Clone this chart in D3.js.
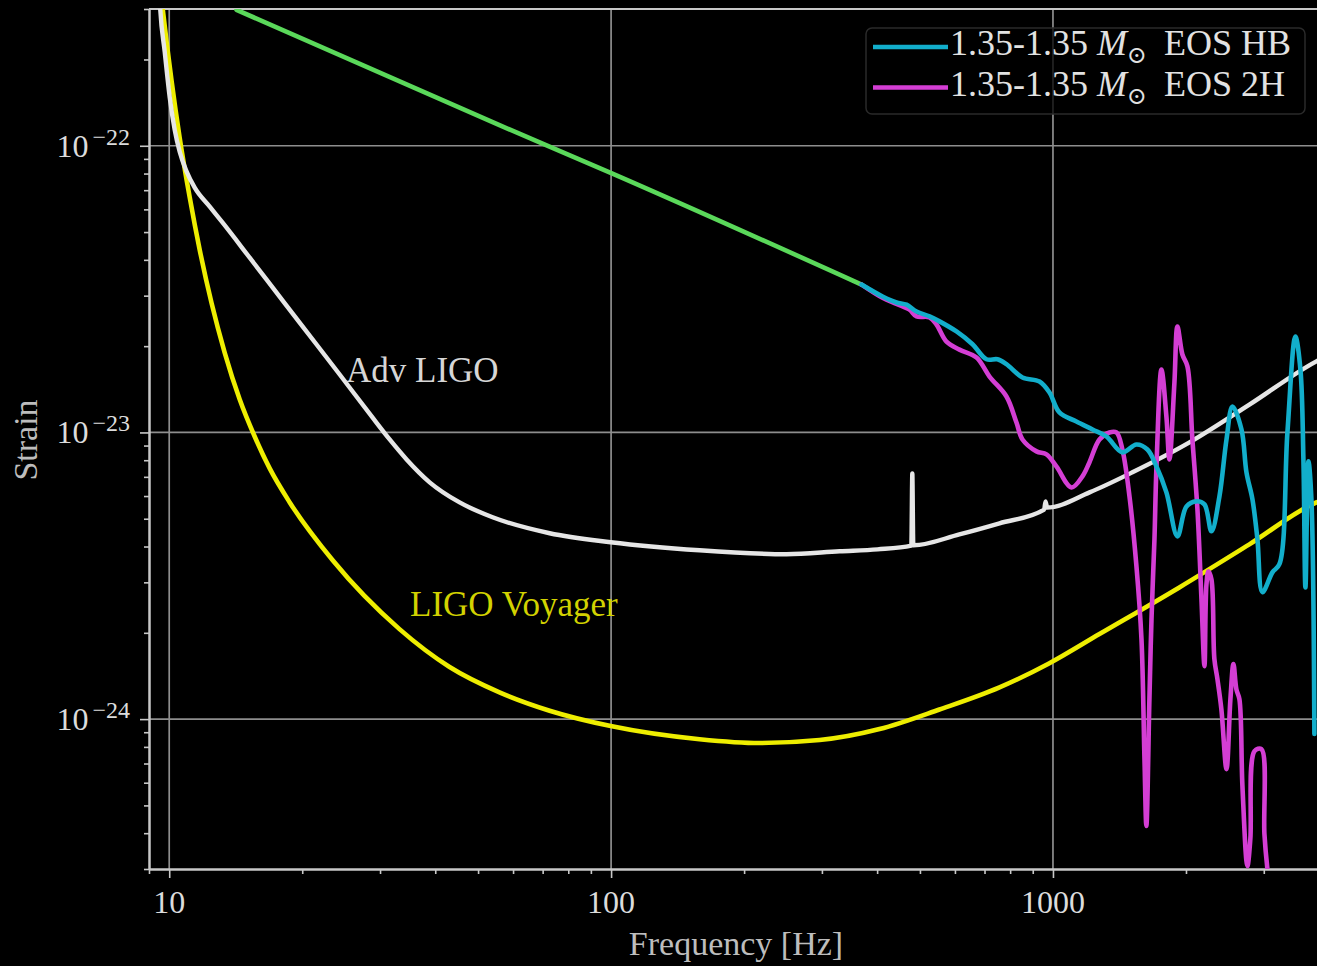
<!DOCTYPE html>
<html>
<head>
<meta charset="utf-8">
<script src="https://cdn.jsdelivr.net/npm/d3@7/dist/d3.min.js"></script>
<style>
  html, body { margin: 0; padding: 0; background: #000; }
  svg { display: block; }
  text { font-family: "Liberation Serif", "DejaVu Serif", serif; }
</style>
</head>
<body>
<svg id="chart" width="1317" height="966"></svg>
<script>
// Noise amplitude curves: [frequency (Hz), strain]
const advLigo = [
  [9.468, 3.79e-22], [9.542, 3.0e-22], [9.768, 2.126e-22], [10.03, 1.469e-22],
  [10.29, 1.137e-22], [10.56, 9.53e-23], [10.95, 8.12e-23], [11.42, 7.14e-23],
  [12.35, 6.13e-23], [13.21, 5.39e-23], [15.21, 4.07e-23], [17.15, 3.20e-23],
  [19.73, 2.416e-23], [24.31, 1.593e-23], [28.72, 1.137e-23], [31.54, 9.45e-24],
  [34.45, 8.05e-24], [38.85, 6.70e-24], [45.42, 5.70e-24], [53.94, 5.06e-24],
  [72.6, 4.45e-24], [99.8, 4.14e-24], [158.6, 3.88e-24], [249.5, 3.76e-24],
  [328.9, 3.85e-24], [400.9, 3.91e-24], [478, 4.03e-24], [480.5, 7.2e-24],
  [483, 4.04e-24], [614, 4.41e-24], [756.8, 4.82e-24], [955, 5.38e-24],
  [962, 5.75e-24], [970, 5.47e-24], [1210, 6.18e-24], [1513, 7.26e-24],
  [2037, 9.23e-24], [2783, 1.25e-23], [3945, 1.77e-23], [4000, 1.79e-23]
];

const ligoVoyager = [
  [9.507, 3.79e-22], [9.667, 3.0e-22], [10.13, 1.671e-22], [10.56, 1.066e-22],
  [11.13, 6.59e-23], [11.72, 4.34e-23], [12.48, 2.81e-23], [13.35, 1.90e-23],
  [14.44, 1.303e-23], [15.61, 9.68e-24], [16.88, 7.49e-24], [18.74, 5.70e-24],
  [23.44, 3.58e-24], [33.2, 2.06e-24], [43.1, 1.52e-24], [55.9, 1.24e-24],
  [72.6, 1.07e-24], [99.8, 9.46e-25], [158.6, 8.51e-25], [216.8, 8.25e-25],
  [296.3, 8.45e-25], [405, 9.23e-25], [553.5, 1.08e-24], [756.8, 1.29e-24],
  [977, 1.56e-24], [1274, 1.98e-24], [1932, 2.88e-24], [2783, 4.07e-24],
  [3945, 5.70e-24], [4000, 5.75e-24]
];

// Inspiral part of the signal, below the merger frequency
const inspiral = [
  [14.2, 2.98e-22], [55.9, 1.18e-22], [99.8, 8.05e-23], [368.8, 3.28e-23]
];

// Post-merger spectra for the two equations of state
const eosHB = [
  [368.8, 3.28e-23], [411.5, 2.98e-23], [442.5, 2.84e-23], [466.3, 2.79e-23],
  [491.2, 2.64e-23], [525.6, 2.54e-23], [553.6, 2.44e-23], [604.9, 2.25e-23],
  [657.6, 2.03e-23], [707.1, 1.80e-23], [748.8, 1.80e-23], [784.7, 1.73e-23],
  [853.1, 1.555e-23], [932.2, 1.505e-23], [982, 1.378e-23], [1034, 1.174e-23],
  [1130, 1.092e-23], [1229, 1.024e-23], [1321, 9.68e-24], [1436, 8.52e-24],
  [1545, 9.08e-24], [1636, 8.72e-24], [1715, 7.61e-24], [1806, 6.18e-24],
  [1913, 4.34e-24], [2005, 5.52e-24], [2112, 5.75e-24], [2202, 5.61e-24],
  [2284, 4.52e-24], [2381, 5.98e-24], [2470, 9.45e-24], [2548, 1.232e-23],
  [2671, 1.024e-23], [2741, 7.26e-24], [2828, 5.84e-24], [2902, 4.24e-24],
  [2979, 2.77e-24], [3138, 3.25e-24], [3254, 3.47e-24], [3393, 1.0e-23],
  [3537, 2.16e-23], [3631, 1.658e-23], [3688, 8.05e-24], [3727, 2.88e-24],
  [3786, 7.93e-24], [3845, 5.84e-24], [3905, 8.87e-25]
];

const eos2H = [
  [368.8, 3.28e-23], [411.5, 2.95e-23], [442.5, 2.81e-23], [473.5, 2.68e-23],
  [491.2, 2.54e-23], [525.6, 2.52e-23], [545, 2.38e-23], [574.1, 2.075e-23],
  [614.3, 1.945e-23], [671.4, 1.825e-23], [718.4, 1.567e-23], [784.7, 1.335e-23],
  [826.8, 1.083e-23], [853.1, 9.45e-24], [917.8, 8.59e-24], [966.7, 8.38e-24],
  [1018, 7.61e-24], [1101.5, 6.43e-24], [1166, 7.03e-24], [1209, 7.86e-24],
  [1274, 9.45e-24], [1342, 1.0e-23], [1392, 1.0e-23], [1436, 8.72e-24],
  [1490, 5.98e-24], [1545, 3.41e-24], [1586, 1.90e-24], [1611, 7.25e-25],
  [1627, 4.24e-25], [1653, 1.174e-24], [1671, 2.23e-24], [1697, 4.24e-24],
  [1715, 7.61e-24], [1760, 1.658e-23], [1806, 1.137e-23], [1835, 8.05e-24],
  [1883, 1.493e-23], [1913, 2.34e-23], [1963, 1.87e-23], [2015, 1.70e-23],
  [2068, 9.45e-24], [2123, 5.39e-24], [2168, 2.62e-24], [2202, 1.53e-24],
  [2225, 2.95e-24], [2248, 3.28e-24], [2284, 3.07e-24], [2319, 1.62e-24],
  [2356, 1.38e-24], [2405, 1.083e-24], [2470, 6.69e-25], [2521, 1.174e-24],
  [2561, 1.555e-24], [2601, 1.27e-24], [2642, 1.174e-24], [2684, 5.84e-25],
  [2754, 3.07e-25], [2797, 3.82e-25], [2858, 7.73e-25], [2963, 7.86e-25],
  [3010, 3.97e-25], [3057, 3.0e-25], [3121, 2.36e-25]
];

const xMajorTicks = [10, 100, 1000];
const xTickLabels = ["10", "100", "1000"];
const yMajorTicks = [1e-22, 1e-23, 1e-24];
const yTickExponents = ["\u221222", "\u221223", "\u221224"];
const legendLabels = ["EOS HB", "EOS 2H"];

const svg = d3.select("#chart");
const plotLeft = 149, plotRight = 1319, plotTop = 9, plotBottom = 869;

const x = d3.scaleLog().domain([9, 4000]).range([plotLeft, plotRight]);
const y = d3.scaleLog().domain([3e-25, 3e-22]).range([plotBottom, plotTop]);

svg.append("rect").attr("width", 1317).attr("height", 966).attr("fill", "#000");

svg.append("defs").append("clipPath").attr("id", "plot-clip")
  .append("rect").attr("x", plotLeft).attr("y", plotTop)
  .attr("width", plotRight - plotLeft).attr("height", plotBottom - plotTop);

// grid
const grid = svg.append("g").attr("stroke", "#8e8e8e").attr("stroke-width", 1.7);
grid.selectAll("line.gx").data(xMajorTicks).join("line").attr("class", "gx")
  .attr("x1", d => x(d)).attr("x2", d => x(d))
  .attr("y1", plotTop).attr("y2", plotBottom);
grid.selectAll("line.gy").data(yMajorTicks).join("line").attr("class", "gy")
  .attr("x1", plotLeft).attr("x2", plotRight)
  .attr("y1", d => y(d)).attr("y2", d => y(d));

// axes: minor ticks from the log scales, major ticks on top
const axisColor = "#c8c8c8";
const xMinor = x.ticks().filter(t => !xMajorTicks.includes(t));
const yMinor = y.ticks().filter(t => !yMajorTicks.some(m => Math.abs(m - t) / m < 1e-6));

function styleAxis(g) {
  g.selectAll("path.domain").attr("stroke", axisColor).attr("stroke-width", 2);
  g.selectAll(".tick line").attr("stroke", axisColor).attr("stroke-width", 1.6);
  g.selectAll(".tick text").remove();
}

svg.append("g").attr("transform", `translate(0,${plotBottom})`)
  .call(d3.axisBottom(x).tickValues(xMinor).tickSize(5).tickSizeOuter(0).tickFormat(""))
  .call(styleAxis);
svg.append("g").attr("transform", `translate(0,${plotBottom})`)
  .call(d3.axisBottom(x).tickValues(xMajorTicks).tickSize(9).tickSizeOuter(0).tickFormat(""))
  .call(styleAxis);
svg.append("g").attr("transform", `translate(${plotLeft},0)`)
  .call(d3.axisLeft(y).tickValues(yMinor).tickSize(5).tickSizeOuter(0).tickFormat(""))
  .call(styleAxis);
svg.append("g").attr("transform", `translate(${plotLeft},0)`)
  .call(d3.axisLeft(y).tickValues(yMajorTicks).tickSize(9).tickSizeOuter(0).tickFormat(""))
  .call(styleAxis);
svg.append("line").attr("x1", plotLeft).attr("x2", plotRight).attr("y1", plotTop).attr("y2", plotTop)
  .attr("stroke", axisColor).attr("stroke-width", 2);

// tick labels
svg.selectAll("text.xt").data(xMajorTicks).join("text")
  .attr("class", "xt")
  .attr("x", d => x(d)).attr("y", 913)
  .attr("text-anchor", "middle")
  .attr("font-size", 32).attr("fill", "#dcdcdc")
  .text((d, i) => xTickLabels[i]);

const yLab = svg.selectAll("text.yt").data(yMajorTicks).join("text")
  .attr("class", "yt")
  .attr("x", 130).attr("y", d => y(d) + 11)
  .attr("text-anchor", "end")
  .attr("font-size", 32).attr("fill", "#dcdcdc");
yLab.append("tspan").text("10");
yLab.append("tspan").attr("dx", 4).attr("dy", -12).attr("font-size", 24)
  .text((d, i) => yTickExponents[i]);

// axis titles
svg.append("text").attr("x", 736).attr("y", 955)
  .attr("text-anchor", "middle").attr("font-size", 34).attr("fill", "#bdbdbd")
  .text("Frequency [Hz]");
svg.append("text").attr("transform", "translate(37,440) rotate(-90)")
  .attr("text-anchor", "middle").attr("font-size", 34).attr("fill", "#bdbdbd")
  .text("Strain");

// curves
const line = d3.line().x(d => x(d[0])).y(d => y(d[1]));
const plot = svg.append("g").attr("clip-path", "url(#plot-clip)")
  .attr("fill", "none").attr("stroke-linejoin", "round").attr("stroke-linecap", "round");

const series = [
  { data: ligoVoyager, color: "#eeee00", width: 4.6, curve: d3.curveMonotoneX },
  { data: advLigo, color: "#e6e6e6", width: 4.4, curve: d3.curveMonotoneX },
  { data: inspiral, color: "#5ad85a", width: 4.6, curve: d3.curveMonotoneX },
  { data: eos2H, color: "#d43ed4", width: 4.6, curve: d3.curveCatmullRom.alpha(0.5) },
  { data: eosHB, color: "#12aecb", width: 4.6, curve: d3.curveCatmullRom.alpha(0.5) }
];
series.forEach(s => {
  plot.append("path").datum(s.data)
    .attr("d", line.curve(s.curve))
    .attr("stroke", s.color).attr("stroke-width", s.width);
});

// curve annotations
svg.append("text").attr("x", 346).attr("y", 382)
  .attr("font-size", 35).attr("fill", "#d6d6d6").text("Adv LIGO");
svg.append("text").attr("x", 410).attr("y", 616)
  .attr("font-size", 35).attr("fill", "#d2d200").text("LIGO Voyager");

// legend
const legend = svg.append("g");
legend.append("rect").attr("x", 866).attr("y", 28).attr("width", 439).attr("height", 86)
  .attr("rx", 6).attr("fill", "#000").attr("fill-opacity", 0.75)
  .attr("stroke", "#2a2a2a").attr("stroke-width", 1.5);
const legendColors = ["#12aecb", "#d43ed4"];
legendLabels.forEach((lab, i) => {
  const yy = 47 + i * 40.5;
  legend.append("line").attr("x1", 873).attr("x2", 948).attr("y1", yy).attr("y2", yy)
    .attr("stroke", legendColors[i]).attr("stroke-width", 4.6);
  const t = legend.append("text").attr("x", 950).attr("y", yy + 8)
    .attr("font-size", 36).attr("fill", "#e2e2e2");
  t.append("tspan").text("1.35-1.35 ");
  t.append("tspan").attr("font-style", "italic").text("M");
  t.append("tspan").attr("dy", 8).attr("font-size", 24).text("\u2299");
  t.append("tspan").attr("dy", -8).attr("dx", 8).text(" " + lab);
});
</script>
</body>
</html>
